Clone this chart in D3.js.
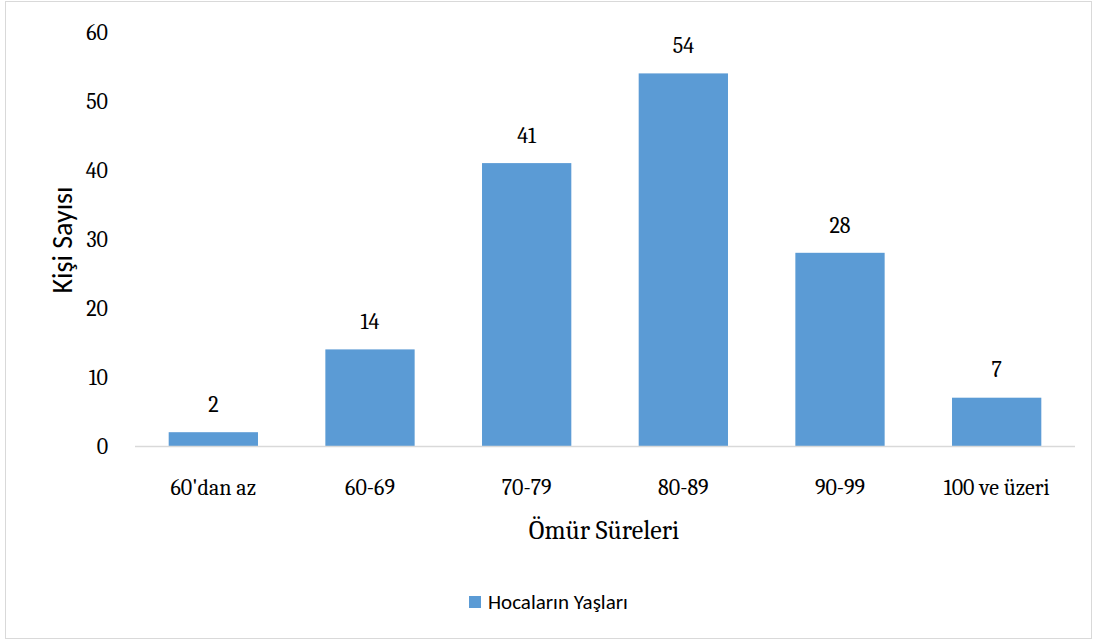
<!DOCTYPE html>
<html>
<head>
<meta charset="utf-8">
<script src="https://cdn.jsdelivr.net/npm/d3@7"></script>
<style>
  body { margin: 0; background: #fff; }
  svg { display: block; }
</style>
</head>
<body>
<div class="chart"></div>
<script>
var categories = ["60'dan az", "60-69", "70-79", "80-89", "90-99", "100 ve üzeri"];
var values = [2, 14, 41, 54, 28, 7];
var yTicks = [0, 10, 20, 30, 40, 50, 60];
var seriesName = "Hocaların Yaşları";

var W = 1096, H = 641;
var serif = "Cambria, 'Liberation Serif', 'DejaVu Serif', serif";
var sans = "Calibri, Carlito, 'Open Sans', sans-serif";
var barColor = "#5b9bd5";

var svg = d3.select(".chart").append("svg")
  .attr("width", W)
  .attr("height", H);

// outer frame
svg.append("rect")
  .attr("x", 5.5).attr("y", 1.5)
  .attr("width", 1086).attr("height", 637)
  .attr("fill", "#fff")
  .attr("stroke", "#d9d9d9");

var x = d3.scaleBand()
  .domain(categories)
  .range([135, 1075])
  .paddingInner(0.43)
  .paddingOuter(0.215);

var y = d3.scaleLinear()
  .domain([0, 60])
  .range([446, 32]);

// y tick labels (no gridlines in reference)
svg.selectAll(".ytick")
  .data(yTicks)
  .enter().append("text")
  .attr("class", "ytick")
  .attr("x", 108)
  .attr("y", function (d) { return y(d); })
  .attr("dy", "0.35em")
  .attr("text-anchor", "end")
  .style("font-family", serif)
  .style("font-size", "22px")
  .attr("fill", "#000")
  .text(function (d) { return d; });

// bars
svg.selectAll(".bar")
  .data(values)
  .enter().append("rect")
  .attr("class", "bar")
  .attr("x", function (d, i) { return x(categories[i]); })
  .attr("y", function (d) { return y(d); })
  .attr("width", x.bandwidth())
  .attr("height", function (d) { return y(0) - y(d); })
  .attr("fill", barColor);

// baseline
svg.append("line")
  .attr("x1", 135).attr("x2", 1075)
  .attr("y1", y(0) + 0.5).attr("y2", y(0) + 0.5)
  .attr("stroke", "#d9d9d9")
  .attr("stroke-width", 1.5);

// value labels
svg.selectAll(".val")
  .data(values)
  .enter().append("text")
  .attr("class", "val")
  .attr("x", function (d, i) { return x(categories[i]) + x.bandwidth() / 2; })
  .attr("y", function (d) { return y(d) - 28; })
  .attr("dy", "0.35em")
  .attr("text-anchor", "middle")
  .style("font-family", serif)
  .style("font-size", "22px")
  .text(function (d) { return d; });

// x tick labels
svg.selectAll(".xtick")
  .data(categories)
  .enter().append("text")
  .attr("class", "xtick")
  .attr("x", function (d) { return x(d) + x.bandwidth() / 2; })
  .attr("y", 487)
  .attr("dy", "0.35em")
  .attr("text-anchor", "middle")
  .style("font-family", serif)
  .style("font-size", "22px")
  .text(function (d) { return d; });

// axis titles
svg.append("text")
  .attr("x", 604).attr("y", 530)
  .attr("dy", "0.35em")
  .attr("text-anchor", "middle")
  .style("font-family", serif)
  .style("font-size", "26px")
  .text("Ömür Süreleri");

svg.append("text")
  .attr("transform", "translate(62,240) rotate(-90)")
  .attr("dy", "0.35em")
  .attr("text-anchor", "middle")
  .style("font-family", sans)
  .style("font-size", "28px")
  .text("Kişi Sayısı");

// legend
svg.append("rect")
  .attr("x", 469).attr("y", 596)
  .attr("width", 12).attr("height", 12)
  .attr("fill", barColor);

svg.append("text")
  .attr("x", 488).attr("y", 602)
  .attr("dy", "0.35em")
  .style("font-family", sans)
  .style("font-size", "21px")
  .text(seriesName);
</script>
</body>
</html>
